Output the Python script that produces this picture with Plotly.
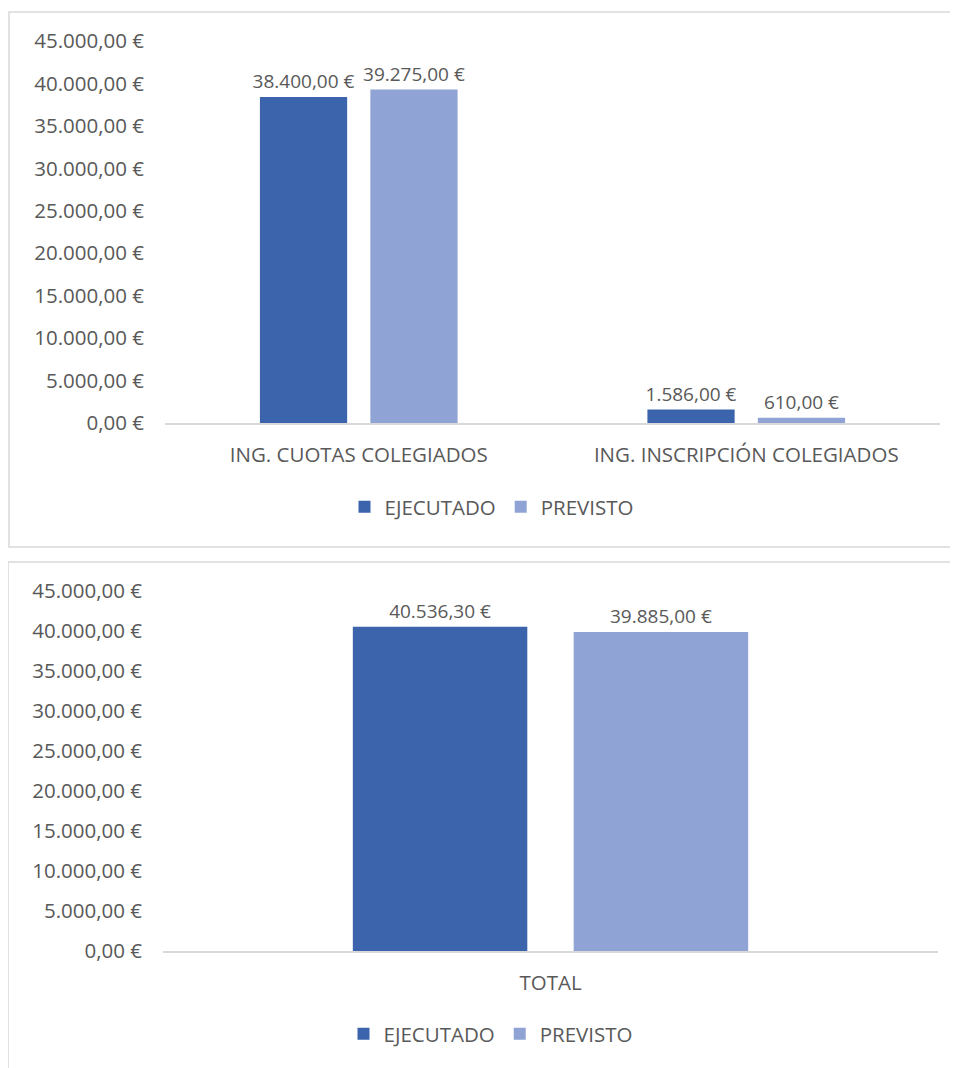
import plotly.graph_objects as go

# ---- data ----
categories_top = ["ING. CUOTAS COLEGIADOS", "ING. INSCRIPCIÓN COLEGIADOS"]
ejecutado_top = [38400.00, 1586.00]
previsto_top = [39275.00, 610.00]

categories_bottom = ["TOTAL"]
ejecutado_bottom = [40536.30]
previsto_bottom = [39885.00]

series_names = ["EJECUTADO", "PREVISTO"]
y_max = 45000
y_step = 5000

# ---- styles ----
C_EJE = "#3c64ad"
C_PRE = "#8fa4d5"
TXT = "#595959"
FONT = "Open Sans"
W, H = 958, 1068
OFF = 8  # page body margin compensation

fig = go.Figure()

def add_bars(cats, vals, name, color, xa, ya, legend, show):
    fig.add_trace(go.Bar(
        x=cats, y=vals, name=name, marker=dict(color=color, line=dict(width=0)),
        xaxis=xa, yaxis=ya, legend=legend, showlegend=show,
        texttemplate="%{y:,.2f} €", textposition="outside", cliponaxis=False,
        constraintext="none",
        textfont=dict(family=FONT, size=19, color=TXT),
    ))

add_bars(categories_top, ejecutado_top, series_names[0], C_EJE, "x", "y", "legend", True)
add_bars(categories_top, previsto_top, series_names[1], C_PRE, "x", "y", "legend", True)
add_bars(categories_bottom, ejecutado_bottom, series_names[0], C_EJE, "x2", "y2", "legend2", True)
add_bars(categories_bottom, previsto_bottom, series_names[1], C_PRE, "x2", "y2", "legend2", True)

def px_x(p):
    return (p - OFF) / W

def px_y(p):
    return 1 - (p - OFF) / H

xcommon = dict(showgrid=False, zeroline=False, showline=True, linecolor="#d9d9d9", linewidth=1.5,
               ticks="", tickfont=dict(family=FONT, size=20.5, color=TXT), ticklabelstandoff=13,
               automargin=False, fixedrange=True)
ycommon = dict(showgrid=False, zeroline=False, showline=False, ticks="",
               tickmode="linear", tick0=0, dtick=y_step, tickformat=",.2f", ticksuffix=" €",
               tickfont=dict(family=FONT, size=20.5, color=TXT), ticklabelstandoff=20,
               range=[0, y_max], automargin=False, fixedrange=True)

fig.update_layout(
    width=W, height=H,
    margin=dict(l=0, r=0, t=0, b=0, pad=0, autoexpand=False),
    paper_bgcolor="white", plot_bgcolor="white",
    separators=",.",
    barmode="group", bargap=0.43, bargroupgap=0.21,
    font=dict(family=FONT, color=TXT),
    xaxis=dict(domain=[px_x(165), px_x(940)], anchor="y", **xcommon),
    yaxis=dict(domain=[px_y(423), px_y(41)], anchor="x", **ycommon),
    xaxis2=dict(domain=[px_x(163), px_x(938)], anchor="y2", **xcommon),
    yaxis2=dict(domain=[px_y(951), px_y(591)], anchor="x2", **ycommon),
    legend=dict(orientation="h", x=px_x(492), y=px_y(507), xanchor="center", yanchor="middle",
                font=dict(family=FONT, size=20.5, color=TXT), itemsizing="constant"),
    legend2=dict(orientation="h", x=px_x(491), y=px_y(1034), xanchor="center", yanchor="middle",
                 font=dict(family=FONT, size=20.5, color=TXT), itemsizing="constant"),
    shapes=[
        dict(type="rect", xref="paper", yref="paper", x0=px_x(9), x1=px_x(980), y0=px_y(547), y1=px_y(12),
             line=dict(color="#d9d9d9", width=1.5), layer="below"),
        dict(type="rect", xref="paper", yref="paper", x0=px_x(8), x1=px_x(980), y0=px_y(1090), y1=px_y(562),
             line=dict(color="#d9d9d9", width=1.5), layer="below"),
    ],
)

fig.write_html("out.html")
